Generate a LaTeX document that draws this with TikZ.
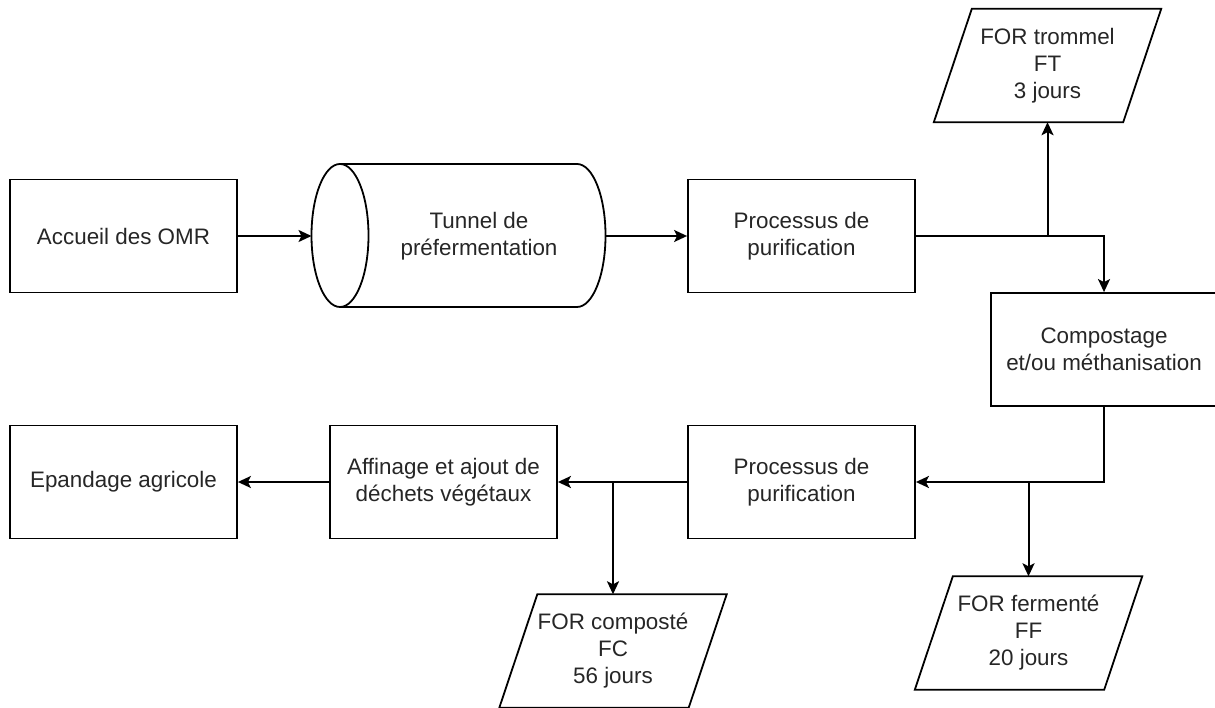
\documentclass[tikz,border=0pt]{standalone}
\usepackage{fontspec}
\setmainfont{Liberation Sans}
\usetikzlibrary{arrows.meta,calc}
\tikzset{
  box/.style={draw, line width=1.8pt, minimum width=227pt, minimum height=113pt, inner sep=0pt, align=center, text=black!85, font=\fontsize{22.4}{27}\selectfont},
  para/.style={minimum width=151pt, minimum height=113pt, inner sep=0pt, align=center, text=black!85, font=\fontsize{22.4}{27}\selectfont},
  txt/.style={inner sep=0pt, align=center, text=black!85, font=\fontsize{22.4}{27}\selectfont},
  arr/.style={line width=2pt, -{Stealth[length=13pt,width=12pt,inset=3pt]}},
  shp/.style={draw, line width=1.8pt}
}
\begin{document}
\begin{tikzpicture}[x=1pt,y=-1pt]
\useasboundingbox (0,0) rectangle (1215,708);
% nodes
\node[box] (acc) at (123.5,236) {Accueil des OMR};
\node[box] (p1) at (801.5,236) {Processus de\\purification};
\node[box, minimum width=226pt] (comp) at (1104,349.5) {Compostage\\et/ou méthanisation};
\node[box] (p2) at (801.5,482) {Processus de\\purification};
\node[box] (aff) at (443.5,482) {Affinage et ajout de\\déchets végétaux};
\node[box] (epa) at (123.5,482) {Epandage agricole};
% cylinder
\coordinate (tunL) at (311.5,236);
\coordinate (tunR) at (605.5,236);
\draw[shp] (340,235.5) ellipse [x radius=28.5, y radius=71.5];
\draw[shp] (340,164) -- (577,164) arc [start angle=-90, end angle=90, x radius=28.5, y radius=71.5] -- (340,307);
\node[txt] (tun) at (479,236) {Tunnel de\\préfermentation};
% parallelograms
\node[para] (ft) at (1047.5,65.5) {FOR trommel\\FT\\3 jours};
\node[para] (ff) at (1028.5,633) {FOR fermenté\\FF\\20 jours};
\node[para] (fc) at (613,651) {FOR composté\\FC\\56 jours};
\foreach \n in {ft,ff,fc}{
  \draw[shp] ($(\n.south west)+(-38,0)$) -- (\n.south east) -- ($(\n.north east)+(38,0)$) -- (\n.north west) -- cycle;
}
% connectors
\draw[arr] (acc.east) -- (tunL);
\draw[arr] (tunR) -- (p1.west);
\draw[arr] (p1.east) -| (comp.north);
\draw[arr] (ft.south |- p1.east) -- (ft.south);
\draw[arr] (comp.south) |- (p2.east);
\draw[arr] (ff.north |- p2.east) -- (ff.north);
\draw[arr] (p2.west) -- (aff.east);
\draw[arr] (fc.north |- aff.east) -- (fc.north);
\draw[arr] (aff.west) -- (epa.east);
\end{tikzpicture}
\end{document}
